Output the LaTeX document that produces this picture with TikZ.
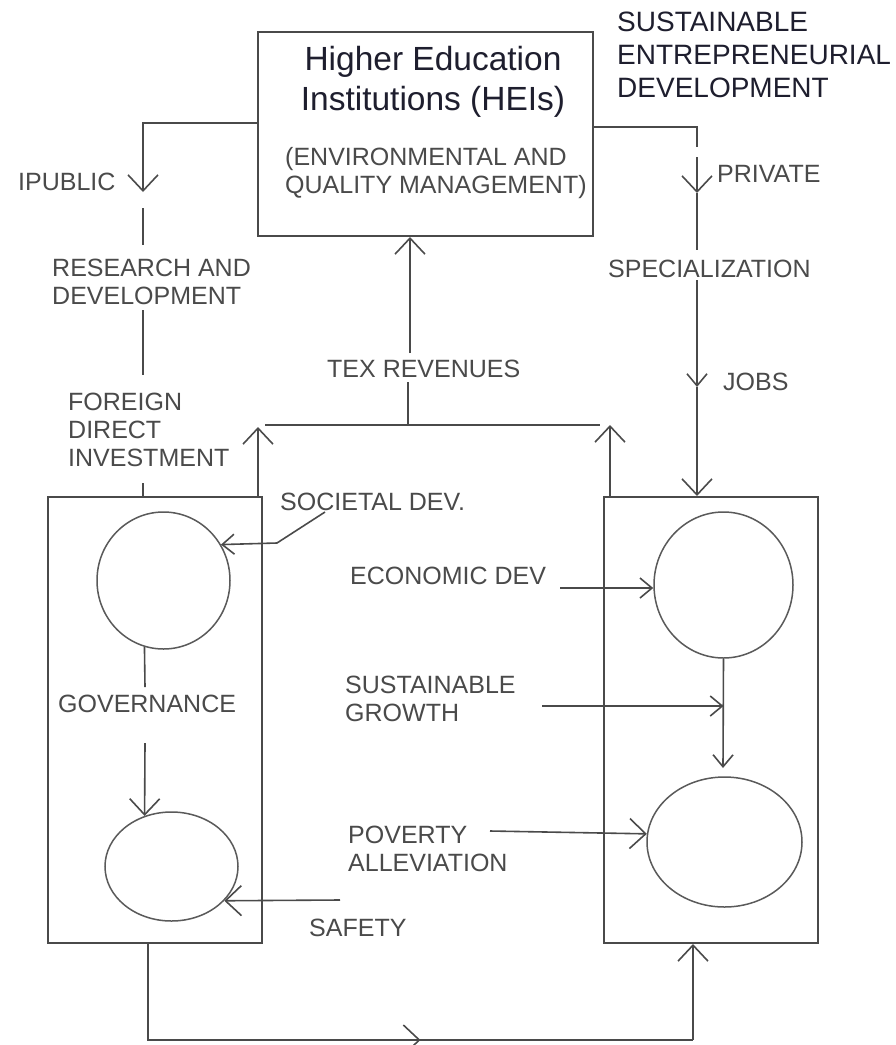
\documentclass[tikz,border=0pt]{standalone}
\usepackage{fontspec}
\setmainfont{Liberation Sans}
\usetikzlibrary{arrows.meta,shapes.geometric,calc}
\definecolor{lnc}{HTML}{4A4A4A}
\definecolor{circc}{HTML}{5A5A5A}
\definecolor{labc}{HTML}{4A4A4A}
\definecolor{ttlc}{HTML}{1E1E2E}
\begin{document}
\begin{tikzpicture}[x=1pt,y=-1pt,
  box/.style={draw=lnc, line width=2pt, rectangle, inner sep=0pt},
  circ/.style={draw=circc, line width=1.5pt, ellipse, inner sep=0pt},
  lab/.style={inner sep=0pt, anchor=north west, align=left, text=labc, font=\fontsize{25}{28}\selectfont},
  conn/.style={draw=lnc, line width=1.6pt},
  arr/.style={conn, -{Straight Barb[length=16pt,width=30pt]}},
  arrs/.style={conn, -{Straight Barb[length=12pt,width=20pt]}},
]
\fill[white] (0,0) rectangle (895,1045);
\useasboundingbox (0,0) rectangle (895,1045);

% boxes and circles
\node[box, minimum width=335pt, minimum height=204pt] (hei) at (425.5,134) {};
\node[box, minimum width=214pt, minimum height=446pt] (lbox) at (155,720) {};
\node[box, minimum width=214pt, minimum height=446pt] (rbox) at (711,720) {};
\node[circ, minimum width=133pt, minimum height=137pt] (lc1) at (163.5,580.5) {};
\node[circ, minimum width=133pt, minimum height=109pt] (lc2) at (171.5,866.5) {};
\node[circ, minimum width=139pt, minimum height=146pt] (rc1) at (723.5,585) {};
\node[circ, minimum width=155pt, minimum height=130pt] (rc2) at (724.5,842) {};

% texts
\node[inner sep=0pt, anchor=north, align=center, text=ttlc, font=\fontsize{33.5}{40}\selectfont] (title) at (433,46) {Higher Education\\Institutions (HEIs)};
\node[lab] (envq) at (285,147) {(ENVIRONMENTAL AND\\QUALITY MANAGEMENT)};
\node[lab, text=ttlc, font=\fontsize{28}{33}\selectfont] (sed) at (617,12) {SUSTAINABLE\\ENTREPRENEURIAL\\DEVELOPMENT};
\node[lab] (pub) at (18,173) {IPUBLIC};
\node[lab] (rd) at (52,259) {RESEARCH AND\\DEVELOPMENT};
\node[lab] (fdi) at (68,393) {FOREIGN\\DIRECT\\INVESTMENT};
\node[lab] (priv) at (717,165) {PRIVATE};
\node[lab] (spec) at (608,260) {SPECIALIZATION};
\node[lab] (jobs) at (723,373) {JOBS};
\node[lab] (tex) at (327,360) {TEX REVENUES};
\node[lab] (soc) at (280,493) {SOCIETAL DEV.};
\node[lab] (eco) at (350,567) {ECONOMIC DEV};
\node[lab] (sus) at (345,676) {SUSTAINABLE\\GROWTH};
\node[lab] (pov) at (348,826) {POVERTY\\ALLEVIATION};
\node[lab] (gov) at (58,695) {GOVERNANCE};
\node[lab] (saf) at (309,919) {SAFETY};

% public branch
\coordinate (pubC) at (143,123);
\coordinate (pubT) at (143,192);
\draw[arr] (hei.west |- pubC) -- (pubC) -- (pubT);
\coordinate (p2a) at (143,208);
\coordinate (p2b) at (143,245);
\draw[conn] (p2a) -- (p2b);
\coordinate (p3a) at (143,310);
\coordinate (p3b) at (143,375);
\draw[conn] (p3a) -- (p3b);
\coordinate (p4a) at (143,483);
\draw[conn] (p4a) -- (p4a |- lbox.north);

% private branch
\coordinate (prC) at (697,127);
\coordinate (pr1) at (697,147);
\draw[conn] (hei.east |- prC) -- (prC) -- (pr1);
\coordinate (pr2) at (697,157);
\coordinate (pr3) at (697,193);
\draw[arr] (pr2) -- (pr3);
\coordinate (pr4) at (697,250);
\draw[conn] (pr3) -- (pr4);
\coordinate (pr5) at (697,280);
\coordinate (pr6) at (697,387);
\draw[arrs] (pr5) -- (pr6);
\draw[arr] (pr6) -- (pr6 |- rbox.north);

% tex revenues
\coordinate (tx1) at (410,353);
\draw[arr] (tx1) -- (tx1 |- hei.south);
\coordinate (tx2) at (408,382);
\coordinate (txJ) at (408,425);
\draw[conn] (tx2) -- (txJ);
\coordinate (hL) at (265,425);
\coordinate (hR) at (600,425);
\draw[conn] (hL) -- (hR);
\coordinate (upL) at (258,427);
\draw[arr] (upL |- lbox.north) -- (upL);
\coordinate (upR) at (610,425);
\draw[arr] (upR |- rbox.north) -- (upR);

% left box
\coordinate (s1) at (325,512);
\coordinate (s2) at (277,543);
\draw[arrs] (s1) -- (s2) -- (lc1.32);
\coordinate (g1) at (145,687);
\coordinate (g2) at (145,743);
\draw[conn] (lc1.-106) -- (g1);
\draw[arr] (g2) -- (lc2.118);
\coordinate (sf1) at (340,900);
\draw[arr] (sf1) -- (lc2.-33);

% right box
\coordinate (e1) at (560,588);
\draw[arrs] (e1) -- (e1 -| rc1.west);
\coordinate (sg1) at (542,706);
\draw[arrs] (sg1) -- (sg1 -| rc1.south);
\coordinate (vt) at (723,768);
\draw[arrs] (rc1.south) -- (vt);
\coordinate (pv1) at (490,831);
\draw[arr] (pv1) -- (rc2.174);

% bottom loop
\coordinate (b1) at (148,1040);
\coordinate (b2) at (693,1040);
\draw[conn] (b1 |- lbox.south) -- (b1) -- (b2);
\draw[arr] (b1) -- ($(b1)!0.5!(b2)$);
\draw[arr] (b2) -- (b2 |- rbox.south);
\end{tikzpicture}
\end{document}
